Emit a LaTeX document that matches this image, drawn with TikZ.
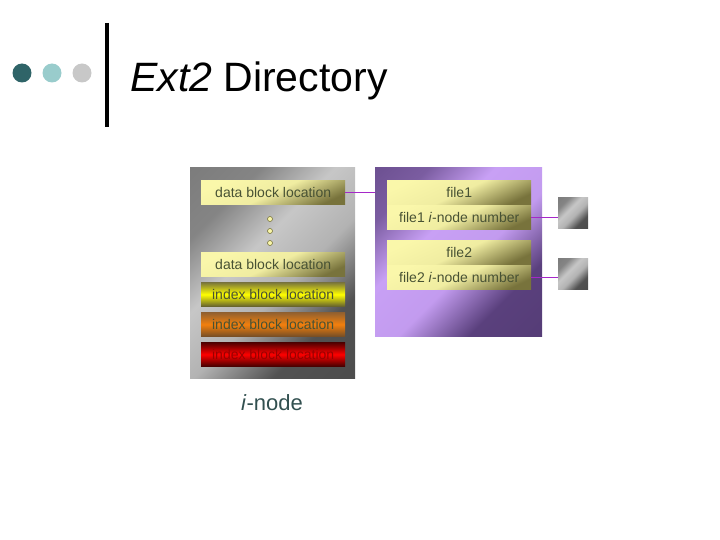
\documentclass[tikz,border=0pt]{standalone}
\usepackage{fontspec}
\setmainfont{Liberation Sans}
\usetikzlibrary{positioning}
\definecolor{dotDark}{RGB}{47,100,104}
\definecolor{dotTeal}{RGB}{153,204,204}
\definecolor{dotGrey}{RGB}{200,200,200}
\definecolor{barText}{RGB}{72,82,52}
\definecolor{labelTeal}{RGB}{50,80,80}
\definecolor{paleY}{RGB}{250,247,170}
\definecolor{oliveD}{RGB}{120,115,60}
\definecolor{wirePurple}{RGB}{165,40,200}
\definecolor{lavender}{RGB}{200,160,245}
\definecolor{plumDark}{RGB}{90,64,125}
% broad light band, dark corners (0bp = bottom, 100bp = top)
\pgfdeclareverticalshading{greyslab}{100bp}{color(0bp)=(black!72); color(30bp)=(black!68);
    color(45bp)=(black!30); color(58bp)=(black!22); color(72bp)=(black!48); color(100bp)=(black!55)}
\pgfdeclareverticalshading{plumslab}{100bp}{color(0bp)=(plumDark!90!black); color(30bp)=(plumDark);
    color(45bp)=(lavender!95!plumDark); color(60bp)=(lavender); color(74bp)=(plumDark!70!lavender); color(100bp)=(plumDark)}
\newcommand{\slideDot}[3]{%
    \fill[#3] (#1,#2) circle (9.5);
}
\newcommand{\ellipsisDot}[2]{%
    \filldraw[fill=paleY, draw=oliveD, line width=0.6pt] (#1,#2) circle (2.5);
}
\tikzset{
    locbar/.style={minimum width=144pt, minimum height=24.5pt, inner sep=0pt, anchor=north west,
        text=barText, font=\fontsize{14}{16}\selectfont, shading=axis},
    databar/.style={locbar, top color=paleY, bottom color=oliveD, middle color=paleY!92!oliveD, shading angle=25},
    yellowbar/.style={locbar, top color=oliveD, bottom color=oliveD!80!black, middle color=yellow},
    orangebar/.style={locbar, top color=brown!75!black, bottom color=brown!60!black, middle color=orange!80!brown},
    redbar/.style={locbar, top color=black!70!red, bottom color=black!75!red, middle color=red, text=red!60!black},
    greybox/.style={anchor=north west, inner sep=0pt, shading=greyslab, shading angle=45},
    purplebox/.style={anchor=north west, inner sep=0pt, shading=plumslab, shading angle=45},
    filebar/.style={databar, anchor=north west},
    wire/.style={wirePurple, line width=1pt}
}
\begin{document}
\begin{tikzpicture}[x=1pt, y=1pt]
    \useasboundingbox (0,0) rectangle (720,-540);

    % --- title ---
    \slideDot{22}{-73}{dotDark}
    \slideDot{52}{-73}{dotTeal}
    \slideDot{82}{-73}{dotGrey}
    \draw[line width=4pt] (107,-23) -- (107,-127);
    \node[anchor=base west, inner sep=0pt, font=\fontsize{41}{45}\selectfont] (title) at (130,-92) {\textit{Ext2} Directory};

    % --- i-node ---
    \node[greybox, minimum width=165pt, minimum height=211pt] (inode) at (190,-167) {};
    \node[databar] (dataA) at (201,-180) {data block location};
    \ellipsisDot{270}{-219}
    \ellipsisDot{270}{-231}
    \ellipsisDot{270}{-243}
    \node[databar] (dataB) at (201,-252) {data block location};
    \node[yellowbar] (idxA) at (201,-282) {index block location};
    \node[orangebar] (idxB) at (201,-312) {index block location};
    \node[redbar] (idxC) at (201,-342) {index block location};
    \node[anchor=base, inner sep=0pt, text=labelTeal, font=\fontsize{22}{24}\selectfont] (inodeLabel) at (272,-410) {\textit{i}-node};

    % --- directory ---
    \node[purplebox, minimum width=167pt, minimum height=169pt] (dir) at (375,-167) {};
    \node[filebar] (fileA) at (387,-180) {file1};
    \node[filebar, below=0pt of fileA] (fileAnum) {file1 \textit{i}-node number};
    \node[filebar] (fileB) at (387,-240) {file2};
    \node[filebar, below=0pt of fileB] (fileBnum) {file2 \textit{i}-node number};

    % --- i-nodes of the files ---
    \node[greybox, minimum width=30pt, minimum height=31pt] (sqA) at (558,-197) {};
    \node[greybox, minimum width=30pt, minimum height=31pt] (sqB) at (558,-258) {};

    % --- links ---
    \draw[wire] (dataA.east) -- (dataA.east -| dir.west);
    \draw[wire] (fileAnum.east) -- (fileAnum.east -| sqA.west);
    \draw[wire] (fileBnum.east) -- (fileBnum.east -| sqB.west);

\end{tikzpicture}
\end{document}
